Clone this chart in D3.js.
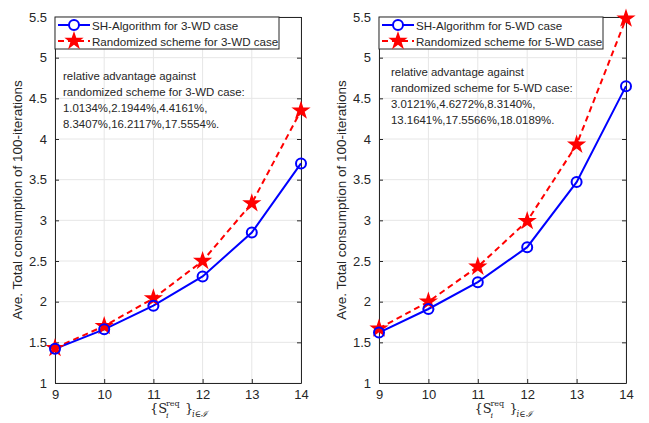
<!DOCTYPE html>
<html>
<head>
<meta charset="utf-8">
<script src="https://cdn.jsdelivr.net/npm/d3@7"></script>
<style>
  body { margin: 0; background: #fff; }
  text { font-family: "Liberation Sans", Arial, sans-serif; fill: #262626; }
</style>
</head>
<body>
<svg id="chart" width="649" height="423"></svg>
<script>
"use strict";

const sizes = [9, 10, 11, 12, 13, 14];
const yTicks = [1, 1.5, 2, 2.5, 3, 3.5, 4, 4.5, 5, 5.5];

const sh3 = [1.42, 1.66, 1.95, 2.31, 2.85, 3.70];
const rand3 = [1.43, 1.70, 2.04, 2.50, 3.21, 4.35];
const sh5 = [1.62, 1.91, 2.24, 2.67, 3.47, 4.65];
const rand5 = [1.67, 2.00, 2.43, 2.99, 3.93, 5.48];

const legend3 = ["SH-Algorithm for 3-WD case", "Randomized scheme for 3-WD case"];
const legend5 = ["SH-Algorithm for 5-WD case", "Randomized scheme for 5-WD case"];
const note3 = [
  "relative advantage against",
  "randomized scheme for 3-WD case:",
  "1.0134%,2.1944%,4.4161%,",
  "8.3407%,16.2117%,17.5554%."
];
const note5 = [
  "relative advantage against",
  "randomized scheme for 5-WD case:",
  "3.0121%,4.6272%,8.3140%,",
  "13.1641%,17.5566%,18.0189%."
];

const svg = d3.select("#chart");
const serif = "DejaVu Serif, Liberation Serif, serif";

function drawPanel(opts) {
  const { left, right, top, bottom, sh, rand, legend, note, noteX, noteY } = opts;
  const g = svg.append("g");

  const x = d3.scaleLinear().domain([9, 14]).range([left, right]);
  const y = d3.scaleLinear().domain([1, 5.5]).range([bottom, top]);
  const fmt = (d) => String(d);

  // grid
  g.append("g")
    .selectAll("line")
    .data(sizes)
    .join("line")
    .attr("x1", (d) => x(d)).attr("x2", (d) => x(d))
    .attr("y1", top).attr("y2", bottom)
    .attr("stroke", "#e6e6e6");
  g.append("g")
    .selectAll("line")
    .data(yTicks)
    .join("line")
    .attr("x1", left).attr("x2", right)
    .attr("y1", (d) => y(d)).attr("y2", (d) => y(d))
    .attr("stroke", "#e6e6e6");

  // axes, ticks pointing in
  const xAxis = g.append("g")
    .attr("transform", `translate(0,${bottom})`)
    .call(d3.axisBottom(x).tickValues(sizes).tickFormat(fmt).tickSizeInner(-4).tickSizeOuter(0).tickPadding(7));
  const xTop = g.append("g")
    .attr("transform", `translate(0,${top})`)
    .call(d3.axisTop(x).tickValues(sizes).tickSizeInner(-4).tickSizeOuter(0).tickFormat(""));
  const yAxis = g.append("g")
    .attr("transform", `translate(${left},0)`)
    .call(d3.axisLeft(y).tickValues(yTicks).tickFormat(fmt).tickSizeInner(-4).tickSizeOuter(0).tickPadding(8));
  const yRight = g.append("g")
    .attr("transform", `translate(${right},0)`)
    .call(d3.axisRight(y).tickValues(yTicks).tickSizeInner(-4).tickSizeOuter(0).tickFormat(""));

  [xAxis, xTop, yAxis, yRight].forEach((a) => {
    a.select(".domain").attr("stroke", "#262626");
    a.selectAll(".tick line").attr("stroke", "#262626");
    a.selectAll(".tick text")
      .attr("font-family", "Liberation Sans, Arial, sans-serif")
      .attr("font-size", 13)
      .attr("fill", "#262626");
  });

  // y label
  g.append("text")
    .attr("transform", `translate(${left - 33},${(top + bottom) / 2}) rotate(-90)`)
    .attr("text-anchor", "middle")
    .attr("font-size", 13.5)
    .text("Ave. Total consumption of 100-iterations");

  // x label  {S_i^req}_{i in I}
  const x0 = (left + right) / 2 - 28;
  const by = bottom + 30;
  const xl = g.append("g").attr("fill", "#262626");
  xl.append("text").attr("x", x0).attr("y", by).attr("font-size", 13).style("font-family", serif).text("{S");
  xl.append("text").attr("x", x0 + 16).attr("y", by - 7).attr("font-size", 8).style("font-family", serif).text("req");
  xl.append("text").attr("x", x0 + 16).attr("y", by + 5).attr("font-size", 8).attr("font-style", "italic").style("font-family", serif).text("i");
  xl.append("text").attr("x", x0 + 35).attr("y", by).attr("font-size", 13).style("font-family", serif).text("}");
  xl.append("text").attr("x", x0 + 42).attr("y", by + 4).attr("font-size", 8.5).attr("font-style", "italic").style("font-family", serif).text("i∈ℐ");

  // lines
  const line = d3.line().x((d, i) => x(sizes[i])).y((d) => y(d));

  g.append("path")
    .datum(rand)
    .attr("d", line)
    .attr("fill", "none")
    .attr("stroke", "#ff0000")
    .attr("stroke-width", 2)
    .attr("stroke-dasharray", "6,4");

  g.append("path")
    .datum(sh)
    .attr("d", line)
    .attr("fill", "none")
    .attr("stroke", "#0000ff")
    .attr("stroke-width", 2);

  const star = d3.symbol().type(d3.symbolStar).size(115);

  g.selectAll("path.star")
    .data(rand)
    .join("path")
    .attr("class", "star")
    .attr("d", star)
    .attr("transform", (d, i) => `translate(${x(sizes[i])},${y(d)})`)
    .attr("fill", "#ff0000");

  g.selectAll("circle.pt")
    .data(sh)
    .join("circle")
    .attr("class", "pt")
    .attr("cx", (d, i) => x(sizes[i]))
    .attr("cy", (d) => y(d))
    .attr("r", 5)
    .attr("fill", "none")
    .attr("stroke", "#0000ff")
    .attr("stroke-width", 2);

  // legend
  const lg = g.append("g").attr("transform", `translate(${left},${top})`);
  lg.append("rect")
    .attr("width", 224).attr("height", 32)
    .attr("fill", "#fff")
    .attr("stroke", "#262626");
  const rows = [
    { color: "#0000ff", dash: null, label: legend[0], cy: 8, mark: "circle" },
    { color: "#ff0000", dash: "6,4", label: legend[1], cy: 24, mark: "star" }
  ];
  rows.forEach((r) => {
    lg.append("line")
      .attr("x1", 3).attr("x2", 35)
      .attr("y1", r.cy).attr("y2", r.cy)
      .attr("stroke", r.color)
      .attr("stroke-width", 2)
      .attr("stroke-dasharray", r.dash);
    if (r.mark === "circle") {
      lg.append("circle")
        .attr("cx", 19).attr("cy", r.cy).attr("r", 5)
        .attr("fill", "#fff").attr("stroke", r.color).attr("stroke-width", 2);
    } else {
      lg.append("path")
        .attr("d", star)
        .attr("transform", `translate(19,${r.cy})`)
        .attr("fill", r.color);
    }
    lg.append("text")
      .attr("x", 37).attr("y", r.cy + 4.5)
      .attr("font-size", 11.6)
      .attr("fill", "#000")
      .text(r.label);
  });

  // annotation
  g.append("g")
    .selectAll("text")
    .data(note)
    .join("text")
    .attr("x", noteX)
    .attr("y", (d, i) => noteY + i * 16)
    .attr("font-size", 11.4)
    .attr("fill", "#000")
    .text((d) => d);
}

drawPanel({
  left: 55, right: 301, top: 17, bottom: 383,
  sh: sh3, rand: rand3, legend: legend3, note: note3,
  noteX: 63, noteY: 80
});

drawPanel({
  left: 379, right: 626, top: 17, bottom: 383,
  sh: sh5, rand: rand5, legend: legend5, note: note5,
  noteX: 391, noteY: 76
});
</script>
</body>
</html>
